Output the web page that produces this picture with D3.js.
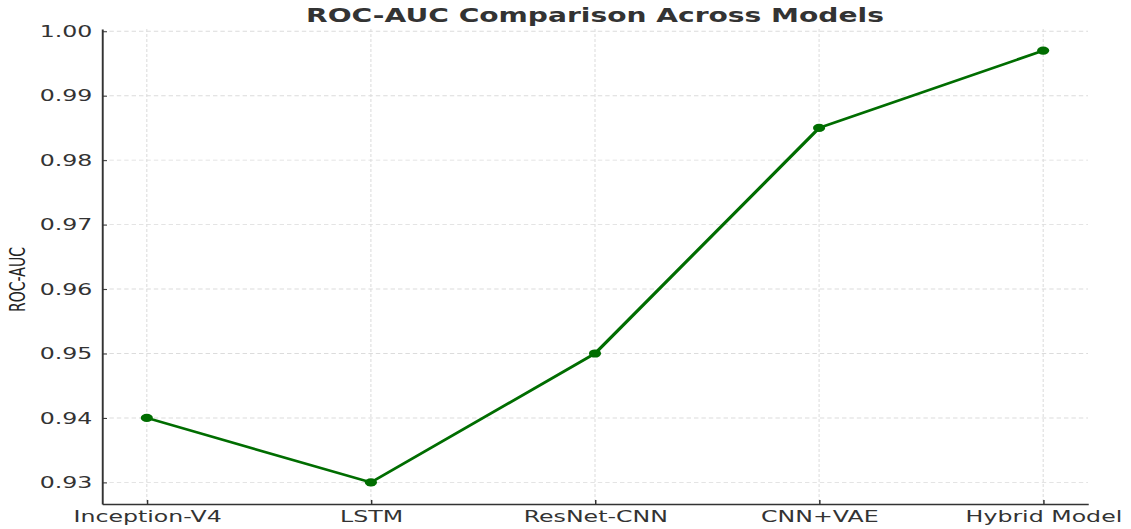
<!DOCTYPE html>
<html>
<head>
<meta charset="utf-8">
<script src="https://cdn.jsdelivr.net/npm/d3@7"></script>
<style>
    html, body { margin: 0; padding: 0; background: #fff; }
    #chart { width: 1131px; height: 529px; }
    svg { display: block; }
</style>
</head>
<body>
<div id="chart"></div>
<script>
const models = ["Inception-V4", "LSTM", "ResNet-CNN", "CNN+VAE", "Hybrid Model"];
const rocAuc = [0.94, 0.93, 0.95, 0.985, 0.997];
const yTicks = [0.93, 0.94, 0.95, 0.96, 0.97, 0.98, 0.99, 1.00];

// the reference picture is stretched sideways, so draw in a narrower
// viewBox and let the svg stretch it to the full window width
const stretch = 1.48;
const W = 1131, H = 529;
const vbW = W / stretch;

const margin = { top: 29, right: W - 1088, bottom: H - 504, left: 102 };

const svg = d3.select("#chart")
    .append("svg")
    .attr("width", W)
    .attr("height", H)
    .attr("viewBox", `0 0 ${vbW} ${H}`)
    .attr("preserveAspectRatio", "none");

const plotLeft = margin.left / stretch;
const plotRight = (W - margin.right) / stretch;
const plotTop = margin.top;
const plotBottom = H - margin.bottom;

const x = d3.scalePoint()
    .domain(models)
    .range([plotLeft, plotRight])
    .padding(0.2);

// matplotlib style 5% margins around the data
const yMin = d3.min(rocAuc), yMax = d3.max(rocAuc);
const pad = (yMax - yMin) * 0.05;
const y = d3.scaleLinear()
    .domain([yMin - pad, yMax + pad])
    .range([plotBottom, plotTop]);

// grid
svg.append("g")
    .attr("class", "grid-y")
    .selectAll("line")
    .data(yTicks)
    .join("line")
    .attr("x1", plotLeft)
    .attr("x2", plotRight)
    .attr("y1", d => y(d))
    .attr("y2", d => y(d))
    .attr("stroke", "#dcdcdc")
    .attr("stroke-width", 0.9)
    .attr("stroke-dasharray", "3,2");

svg.append("g")
    .attr("class", "grid-x")
    .selectAll("line")
    .data(models)
    .join("line")
    .attr("x1", d => x(d))
    .attr("x2", d => x(d))
    .attr("y1", plotTop)
    .attr("y2", plotBottom)
    .attr("stroke", "#dcdcdc")
    .attr("stroke-width", 0.7)
    .attr("stroke-dasharray", "3,2");

// axes
const yAxis = svg.append("g")
    .attr("transform", `translate(${plotLeft},0)`)
    .call(d3.axisLeft(y).tickValues(yTicks).tickFormat(d3.format(".2f")).tickSizeInner(-3.4).tickSizeOuter(0).tickPadding(7));

const xAxis = svg.append("g")
    .attr("transform", `translate(0,${plotBottom})`)
    .call(d3.axisBottom(x).tickSizeInner(-4).tickSizeOuter(0).tickPadding(7));

[yAxis, xAxis].forEach(a => {
    a.select(".domain").attr("stroke", "#333").attr("stroke-width", 1.3);
    a.selectAll(".tick line").attr("stroke", "#333").attr("stroke-width", 1);
    a.selectAll(".tick text")
        .attr("fill", "#333")
        .style("font-family", "DejaVu Sans")
        .style("font-size", "16px");
});
yAxis.selectAll(".tick text").attr("x", -6.5);
xAxis.selectAll(".tick text").attr("dy", "0.71em").attr("y", 6.5);

// line
const line = d3.line()
    .x((d, i) => x(models[i]))
    .y(d => y(d));

svg.append("path")
    .datum(rocAuc)
    .attr("d", line)
    .attr("fill", "none")
    .attr("stroke", "#006d00")
    .attr("stroke-width", 2.5)
    .attr("stroke-linejoin", "round");

svg.append("g")
    .selectAll("circle")
    .data(rocAuc)
    .join("circle")
    .attr("cx", (d, i) => x(models[i]))
    .attr("cy", d => y(d))
    .attr("r", 4.1)
    .attr("fill", "#006d00");

// title
svg.append("text")
    .attr("x", (plotLeft + plotRight) / 2)
    .attr("y", 22)
    .attr("text-anchor", "middle")
    .attr("fill", "#333")
    .style("font-family", "DejaVu Sans")
    .style("font-weight", "bold")
    .style("font-size", "19px")
    .text("ROC-AUC Comparison Across Models");

// y label
svg.append("text")
    .attr("transform", `translate(${25 / stretch},${(plotTop + plotBottom) / 2 + 13}) rotate(-90)`)
    .attr("text-anchor", "middle")
    .attr("fill", "#222")
    .attr("textLength", 65)
    .attr("lengthAdjust", "spacingAndGlyphs")
    .style("font-family", "DejaVu Sans")
    .style("font-size", "14px")
    .text("ROC-AUC");
</script>
</body>
</html>
